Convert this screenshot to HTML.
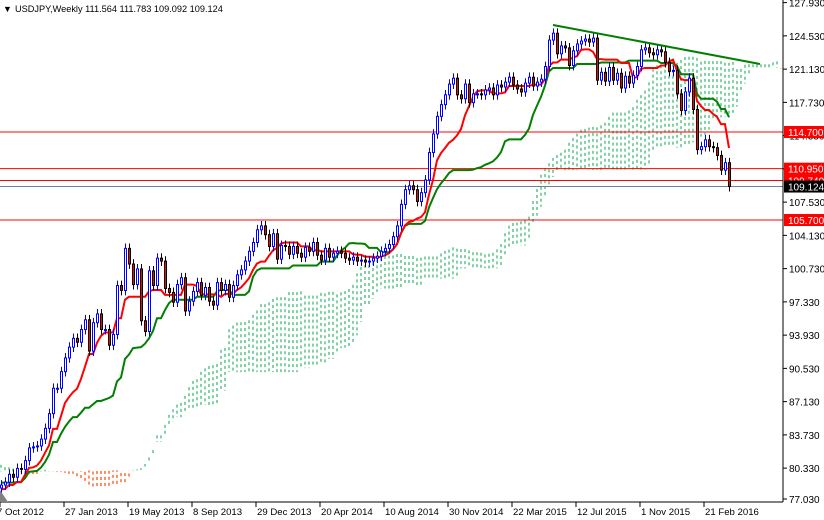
<!DOCTYPE html>
<html><head><meta charset="utf-8"><style>
body{margin:0;background:#fff;}
svg{display:block;font-family:"Liberation Sans",sans-serif;}
</style></head><body>
<svg id="chart" width="824" height="520" viewBox="0 0 824 520">
<defs><clipPath id="plot"><rect x="0" y="0" width="783" height="502"/></clipPath></defs>
<rect width="824" height="520" fill="#fff"/>
<g id="cloud" clip-path="url(#plot)"></g>
<g id="levels" clip-path="url(#plot)"></g>
<g id="lines" clip-path="url(#plot)"></g>
<g id="candles" clip-path="url(#plot)"></g>
<line x1="553" y1="25" x2="760" y2="64" stroke="#007f00" stroke-width="2"/>
<line x1="783" y1="0" x2="783" y2="502" stroke="#000"/>
<line x1="0" y1="502" x2="783" y2="502" stroke="#000"/>
<g id="yaxis"></g>
<g id="xaxis"></g>
<g id="labels"></g>
<text x="3" y="12" font-size="9" fill="#000">▼</text>
<text x="15" y="12" font-size="9.2" fill="#000">USDJPY,Weekly  111.564 111.783 109.092 109.124</text>
<polygon points="0,490 8,502 0,502" fill="#808080"/>
</svg>
<script>
const preCloses=[83,82.5,81.5,81,80.5,81,80.5,80,80.5,80.8,80.4,79.6,79.2,78.5,77.5,76.8,77,77.5,76.8,76.8,76.5,77,76.8,77.8,78,77.2,77.5,77.7,77.8,77.2,76.8,76.9,77.5,78.2,76.7,76.8,78,78.5,79.5,81,82,83.5,83.2,82.5,82.8,83,82.5,81.5,81,80,79.8,79.5,79.8,78.5,79.3,79.6,80.2,79.8,79.5,79.3,79.7,79.8,78.8,78.5,78.2,78.3,78.6,78.3,78.5,78.1,78.2,78.6,78.2,78,77.5,78.2,78.8,78.3];
const closes=[78.6,78.9,79.7,79.4,80.3,80.2,81.1,82.4,82.5,82.6,
83.3,84.4,85.9,88.5,88.5,90.2,91.6,92.7,93.6,93.2,
94.5,95.5,92.3,95.2,96.1,94.5,94.5,92.9,94.0,99.0,
98.5,102.8,101.2,99.1,100.7,95.4,94.3,100.5,99.0,101.8,
101.5,98.7,98.3,97.3,99.1,99.8,96.4,97.4,98.4,99.3,
98.0,98.8,97.4,97.0,99.3,98.5,99.1,97.8,99.0,100.1,
100.6,101.5,102.5,103.4,104.7,105.1,104.2,103.0,104.3,101.7,
103.1,103.0,102.2,103.0,102.3,101.9,102.9,102.5,103.4,102.1,
101.6,102.8,101.9,102.3,102.5,102.3,101.8,101.6,101.9,101.5,
101.6,101.4,101.5,101.8,102.0,102.5,102.8,103.2,104.0,105.1,
107.3,108.8,109.2,108.8,107.6,108.5,109.8,112.6,114.5,116.3,
117.5,118.5,119.6,120.2,118.5,118.1,119.6,117.7,118.6,118.6,
118.5,119.0,119.2,118.5,119.5,119.3,119.8,120.3,119.5,119.1,
118.8,119.7,120.3,119.4,119.8,120.1,121.4,124.1,124.8,122.7,
123.5,123.3,121.5,123.0,123.7,124.0,124.2,123.9,124.3,120.0,
120.8,119.9,121.3,120.0,120.7,119.2,120.4,119.7,120.5,121.4,
123.1,123.3,122.8,122.6,123.1,122.9,121.8,120.9,121.0,118.6,
116.9,118.8,120.2,117.0,112.9,113.2,113.9,113.2,113.1,112.3,
110.8,111.56,109.12];
const levelPrices=[114.7,110.95,109.74,105.7];
const levelTexts=["114.700","110.950","109.740","105.700"];
const currentPrice=109.124;
const yTickLabels=["127.930","124.530","121.130","117.730","114.330","110.930","107.530","104.130","100.730","97.330","93.930","90.530","87.130","83.730","80.330","77.030"];
const xTickLabels=["7 Oct 2012","27 Jan 2013","19 May 2013","8 Sep 2013","29 Dec 2013","20 Apr 2014","10 Aug 2014","30 Nov 2014","22 Mar 2015","12 Jul 2015","1 Nov 2015","21 Feb 2016"];

const NS="http://www.w3.org/2000/svg";
function y(p){return 132+(114.7-p)*9.78;}
function x(i){return 1+4*i;}
function mk(tag,attrs,parent){const e=document.createElementNS(NS,tag);for(const k in attrs)e.setAttribute(k,attrs[k]);parent.appendChild(e);return e;}

const all=preCloses.concat(closes);
const P=preCloses.length;
const W=0.5;
const opens=all.map((c,i)=>i?all[i-1]:c);
const highs=all.map((c,i)=>Math.max(c,opens[i])+W);
const lows=all.map((c,i)=>Math.min(c,opens[i])-W);
function mid(end,n){let h=-1e9,l=1e9;for(let k=Math.max(0,end-n+1);k<=end;k++){h=Math.max(h,highs[k]);l=Math.min(l,lows[k]);}return (h+l)/2;}

const cg=document.getElementById('cloud');
for(let i=0;i<closes.length+26;i++){
  const src=P+i-26;
  if(src<0)continue;
  const a=(mid(src,9)+mid(src,26))/2, b=mid(src,52);
  const ln=mk('line',{x1:x(i),x2:x(i),y1:y(a),y2:y(b),stroke:a>=b?'#2fb36b':'#ff4500','stroke-width':1.2,'stroke-dasharray':'3,3'},cg);
  
  
}
const lg=document.getElementById('lines');
let tk=[],kj=[];
for(let i=0;i<closes.length;i++){
  tk.push(x(i)+','+y(mid(P+i,9)));
  kj.push(x(i)+','+y(mid(P+i,26)));
}
const kl=mk('polyline',{points:kj.join(' '),fill:'none',stroke:'#007f00','stroke-width':2},lg);


const tl=mk('polyline',{points:tk.join(' '),fill:'none',stroke:'#ff0000','stroke-width':2},lg);



const kg=document.getElementById('candles');
for(let i=0;i<closes.length;i++){
  const j=P+i,o=opens[j],c=closes[i],bull=c>=o;
  const g=mk('g',{},kg);
  
  
  mk('line',{x1:x(i)+0.5,x2:x(i)+0.5,y1:y(highs[j]),y2:y(lows[j]),stroke:bull?'#0000ff':'#000'},g);
  const t=y(Math.max(o,c)),b=y(Math.min(o,c));
  mk('rect',{x:x(i)-0.5,y:t,width:2,height:Math.max(1,b-t),fill:bull?'#fff':'#ff0000',stroke:bull?'#0000ff':'#000','stroke-width':1},g);
}

const lv=document.getElementById('levels');
levelPrices.forEach(p=>{
  const l=mk('line',{x1:0,x2:783,y1:y(p),y2:y(p),stroke:'#ff0000'},lv);
  
  
});
const cl=mk('line',{x1:0,x2:783,y1:y(currentPrice),y2:y(currentPrice),stroke:'#708090'},lv);



const ya=document.getElementById('yaxis');
yTickLabels.forEach(s=>{
  const yy=Math.min(y(parseFloat(s)),499);
  mk('line',{x1:783,x2:787,y1:yy,y2:yy,stroke:'#000'},ya);
  const t=mk('text',{x:789,y:yy+4,'font-size':10,fill:'#000'},ya);
  t.textContent=s;
  
  
});
const xa=document.getElementById('xaxis');
xTickLabels.forEach((s,k)=>{
  const xx=k*64;
  mk('line',{x1:xx,x2:xx,y1:502,y2:507,stroke:'#000'},xa);
  const t=mk('text',{x:k?xx+1:-3,y:515,'font-size':9.6,fill:'#000'},xa);
  t.textContent=s;
  
  
});
const lb=document.getElementById('labels');
function box(p,txt,bg){
  const yy=y(p);
  const g=mk('g',{},lb);
  
  
  mk('rect',{x:784,y:yy-6,width:40,height:12,fill:bg},g);
  const t=mk('text',{x:788,y:yy+4,'font-size':10,fill:'#fff'},g);
  t.textContent=txt;
}
levelPrices.forEach((p,k)=>box(p,levelTexts[k],'#ff0000'));
box(currentPrice,currentPrice.toFixed(3),'#000');
</script>
</body></html>
